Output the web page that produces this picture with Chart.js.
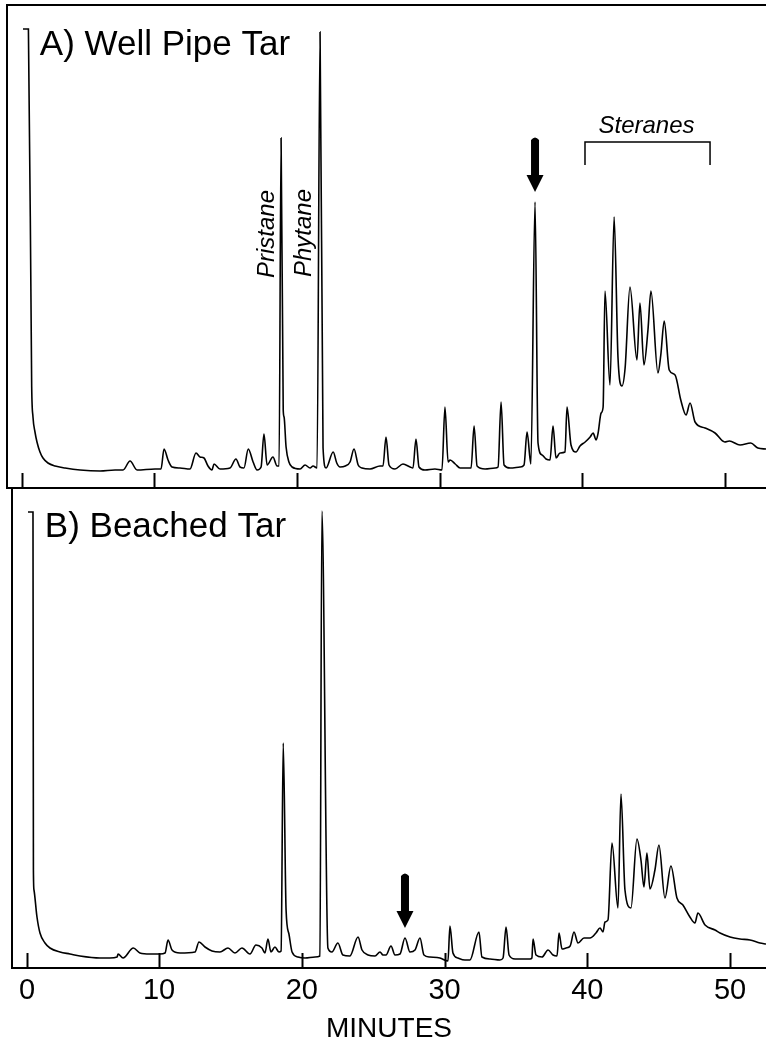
<!DOCTYPE html>
<html>
<head>
<meta charset="utf-8">
<script src="https://cdn.jsdelivr.net/npm/chart.js@4.4.0/dist/chart.umd.min.js"></script>
<style>
  body { margin: 0; background: #fff; }
  #wrap { position: relative; width: 766px; height: 1042px; background: #fff; }
  #topBox { position: absolute; left: 0; top: 0; }
  #botBox { position: absolute; left: 0; top: 488px; }
</style>
</head>
<body>
<div id="wrap">
  <div id="topBox"><canvas id="chartA" width="766" height="490"></canvas></div>
  <div id="botBox"><canvas id="chartB" width="766" height="554"></canvas></div>
</div>
<script>
// ---- data (minutes, detector response in arbitrary units) ----
const wellPipeMinutes = [0.82, 1.20, 1.43, 1.52, 1.66, 1.80, 2.01, 2.22, 2.57, 3.07, 3.77, 4.82, 6.22, 7.27, 7.83, 8.32, 8.81,
  10.07, 10.49, 10.70, 10.98, 11.26, 11.82, 12.52, 12.94, 13.22, 13.50, 13.78, 14.06, 14.20, 14.62, 15.32, 15.74, 16.02,
  16.30, 16.60, 16.94, 17.22, 17.50, 17.70, 17.92, 18.33, 18.62, 18.76, 18.90, 19.05, 19.11, 19.25, 19.45, 19.67, 20.23,
  20.58, 20.93, 21.14, 21.42, 21.63, 21.84, 22.05, 22.55, 22.80, 23.03, 23.40, 23.73, 24.01, 24.30, 24.57, 25.13, 25.83,
  26.04, 26.25, 26.46, 26.88, 27.44, 27.94, 28.14, 28.35, 28.56, 28.98, 29.68, 30.17, 30.38, 30.60, 30.74, 31.10, 31.44,
  32.21, 32.42, 32.63, 33.19, 33.89, 34.10, 34.31, 34.52, 34.94, 35.64, 35.92, 36.13, 36.40, 36.69, 36.90, 37.18, 37.46,
  37.74, 37.95, 38.16, 38.44, 38.79, 38.93, 39.21, 39.56, 39.84, 40.20, 40.55, 40.76, 40.97, 41.11, 41.32, 41.46, 41.59,
  41.94, 42.23, 42.50, 42.78, 43.00, 43.34, 43.83, 44.04, 44.32, 44.60, 44.81, 45.30, 45.50, 45.74, 46.09, 46.50, 46.90,
  47.27, 47.55, 47.90, 48.60, 49.30, 49.98, 50.30, 51.05, 51.80, 52.30, 52.87];
const wellPipeResponse = [459, 459, 101, 71, 56, 46, 36, 30, 25, 22, 20, 18, 17, 18, 18, 27, 18,
  19, 19, 39, 28, 21, 20, 19, 35, 31, 30, 22, 18, 24, 19, 20, 29, 21,
  20, 39, 26, 18, 21, 54, 23, 31, 22, 22, 350, 78, 71, 41, 26, 21, 19,
  23, 20, 22, 20, 456, 40, 20, 36, 25, 21, 22, 26, 39, 23, 20, 19, 22,
  22, 51, 23, 19, 24, 21, 20, 49, 21, 18, 19, 18, 81, 26, 28, 24, 20,
  20, 62, 22, 19, 20, 21, 86, 23, 20, 21, 23, 56, 24, 286, 45, 33, 29,
  28, 62, 30, 35, 36, 81, 43, 36, 42, 46, 51, 55, 48, 55, 75, 81, 197,
  103, 271, 131, 102, 120, 201, 128, 185, 123, 158, 197, 115, 133, 167, 118, 113, 88,
  73, 85, 66, 60, 55, 46, 47, 43, 45, 40, 39];

const beachedMinutes = [0.82, 1.17, 1.20, 1.24, 1.45, 1.66, 2.01, 2.36, 3.06, 3.76, 4.46, 5.86, 6.56, 7.06, 7.13, 7.48, 8.20,
  8.66, 9.37, 10.07, 10.42, 10.63, 10.91, 11.47, 12.52, 12.80, 13.22, 13.71, 14.27, 14.83, 15.32, 15.81, 16.37, 16.79,
  17.21, 17.42, 17.63, 17.84, 18.12, 18.40, 18.55, 18.70, 18.90, 19.10, 19.32, 19.74, 20.23, 20.93, 21.27, 21.41, 21.83,
  22.11, 22.53, 22.88, 23.37, 23.94, 24.22, 24.64, 25.13, 25.48, 25.69, 25.90, 26.25, 26.53, 26.88, 27.23, 27.58, 27.93,
  28.28, 28.56, 28.98, 29.68, 30.24, 30.38, 30.59, 30.94, 31.43, 31.78, 32.41, 32.62, 33.19, 33.88, 34.10, 34.31, 34.52,
  34.94, 35.99, 36.12, 36.20, 36.41, 36.83, 37.25, 37.60, 37.88, 38.02, 38.23, 38.51, 38.80, 39.07, 39.35, 39.77, 40.19,
  40.61, 40.89, 41.10, 41.24, 41.45, 41.73, 42.15, 42.36, 42.64, 43.06, 43.48, 43.76, 43.97, 44.18, 44.39, 44.74, 45.02,
  45.44, 45.86, 46.28, 46.70, 47.19, 47.54, 47.75, 48.25, 48.95, 49.30, 50.00, 50.70, 51.40, 52.10, 52.52];
const beachedResponse = [456, 456, 98, 78, 51, 35, 25, 20, 16, 14, 12, 10, 10, 11, 14, 10, 20,
  15, 14, 14, 15, 28, 18, 15, 16, 26, 21, 17, 16, 20, 15, 20, 14, 23,
  20, 15, 29, 16, 21, 16, 17, 225, 58, 34, 16, 11, 10, 11, 12, 457, 20,
  16, 25, 13, 12, 31, 18, 13, 12, 16, 13, 13, 22, 13, 14, 30, 16, 18,
  30, 13, 11, 10, 7, 42, 15, 10, 8, 8, 36, 11, 9, 8, 10, 41, 13,
  9, 9, 10, 29, 13, 11, 18, 13, 12, 35, 19, 20, 22, 36, 25, 30, 30,
  35, 40, 36, 46, 48, 125, 60, 174, 78, 60, 129, 108, 81, 115, 79, 98, 123,
  70, 102, 70, 63, 51, 45, 55, 43, 38, 35, 31, 29, 28, 25, 24];

const tickMinutes = [0.75, 10, 20, 30, 40, 50];
const tickLabels = ['0', '10', '20', '30', '40', '50'];

const FONT = '"Liberation Sans", Arial, sans-serif';

// draws panel titles, peak names, arrows, bracket and the inward tick marks
const marksPlugin = {
  id: 'marks',
  afterDraw(chart, args, opts) {
    const ctx = chart.ctx;
    const area = chart.chartArea;
    const xs = chart.scales.x, ys = chart.scales.y;
    const px = v => xs.getPixelForValue(v);
    const py = v => ys.getPixelForValue(v);
    ctx.save();
    ctx.fillStyle = '#000';
    ctx.strokeStyle = '#000';

    // tick marks pointing up into the plot
    ctx.lineWidth = 2;
    xs.ticks.forEach(t => {
      const x = Math.round(px(t.value)) + 0.5;
      ctx.beginPath();
      ctx.moveTo(x, area.bottom);
      ctx.lineTo(x, area.bottom - opts.tickLen);
      ctx.stroke();
    });

    // panel title
    ctx.font = '35px ' + FONT;
    ctx.textAlign = 'left';
    ctx.textBaseline = 'alphabetic';
    ctx.fillText(opts.title.text, px(opts.title.at[0]), py(opts.title.at[1]));

    // rotated peak names
    (opts.vlabels || []).forEach(l => {
      ctx.save();
      ctx.translate(px(l.at[0]), py(l.at[1]));
      ctx.rotate(-Math.PI / 2);
      ctx.font = 'italic 24px ' + FONT;
      ctx.textAlign = 'center';
      ctx.textBaseline = 'middle';
      ctx.fillText(l.text, 0, 0);
      ctx.restore();
    });

    // bracket with label
    if (opts.bracket) {
      const b = opts.bracket;
      ctx.lineWidth = 1.5;
      ctx.beginPath();
      ctx.moveTo(px(b.from), py(b.legTo));
      ctx.lineTo(px(b.from), py(b.at));
      ctx.lineTo(px(b.to), py(b.at));
      ctx.lineTo(px(b.to), py(b.legTo));
      ctx.stroke();
      ctx.font = 'italic 24px ' + FONT;
      ctx.textAlign = 'center';
      ctx.textBaseline = 'middle';
      ctx.fillText(b.text, px(b.textAt[0]), py(b.textAt[1]));
    }

    // heavy arrow
    if (opts.arrow) {
      const a = opts.arrow;
      const cx = px(a.at);
      const top = py(a.from), tip = py(a.to);
      const headTop = tip - 17;
      ctx.beginPath();
      ctx.moveTo(cx - 4, top + 3);
      ctx.quadraticCurveTo(cx, top - 2, cx + 4, top + 3);
      ctx.lineTo(cx + 4, headTop);
      ctx.lineTo(cx + 8.5, headTop);
      ctx.lineTo(cx, tip);
      ctx.lineTo(cx - 8.5, headTop);
      ctx.lineTo(cx - 4, headTop);
      ctx.closePath();
      ctx.fill();
    }
    ctx.restore();
  }
};

function makeChart(id, minutes, response, cfg) {
  const points = minutes.map((m, i) => ({ x: m, y: response[i] }));
  return new Chart(document.getElementById(id), {
    type: 'line',
    data: {
      datasets: [{
        data: points,
        borderColor: '#000',
        borderWidth: 1.6,
        pointRadius: 0,
        cubicInterpolationMode: 'monotone',
        fill: false
      }]
    },
    options: {
      responsive: false,
      animation: false,
      layout: { padding: cfg.padding },
      plugins: {
        legend: { display: false },
        tooltip: { enabled: false },
        marks: cfg.marks
      },
      scales: {
        x: {
          type: 'linear',
          min: cfg.xMin,
          max: cfg.xMax,
          afterBuildTicks: scale => { scale.ticks = tickMinutes.map(v => ({ value: v })); },
          afterFit: scale => { scale.height = cfg.axisHeight; },
          grid: { display: false, drawTicks: false },
          border: { display: true, color: '#000', width: 2 },
          ticks: {
            display: cfg.showLabels,
            color: '#000',
            padding: 5.6,
            maxRotation: 0,
            autoSkip: false,
            font: { family: FONT, size: 29 },
            callback: (v, i) => tickLabels[i]
          },
          title: {
            display: cfg.showLabels,
            text: 'MINUTES',
            color: '#000',
            padding: { top: 0, bottom: -4 },
            font: { family: FONT, size: 28 }
          }
        },
        xTop: {
          type: 'linear',
          position: 'top',
          display: cfg.topFrame,
          grid: { display: false, drawTicks: false },
          ticks: { display: false },
          border: { display: true, color: '#000', width: 2 }
        },
        y: {
          min: 0,
          max: cfg.yMax,
          grid: { display: false, drawTicks: false },
          ticks: { display: false },
          border: { display: true, color: '#000', width: 2 }
        }
      }
    },
    plugins: [marksPlugin]
  });
}

makeChart('chartA', wellPipeMinutes, wellPipeResponse, {
  padding: { top: 5, bottom: 2, left: 7, right: 0 },
  xMin: -0.30, xMax: 52.87, yMax: 483, axisHeight: 0,
  showLabels: false, topFrame: true,
  marks: {
    tickLen: 15,
    title: { text: 'A) Well Pipe Tar', at: [2.0, 433] },
    vlabels: [
      { text: 'Pristane', at: [17.92, 254] },
      { text: 'Phytane', at: [20.51, 255] }
    ],
    bracket: { text: 'Steranes', from: 40.19, to: 48.95, at: 346, legTo: 323, textAt: [44.5, 362] },
    arrow: { at: 36.69, from: 351, to: 296 }
  }
});

makeChart('chartB', beachedMinutes, beachedResponse, {
  padding: { top: 0, bottom: 0, left: 12, right: 0 },
  xMin: -0.30, xMax: 52.52, yMax: 480, axisHeight: 74,
  showLabels: true, topFrame: false,
  marks: {
    tickLen: 15,
    title: { text: 'B) Beached Tar', at: [2.0, 431] },
    arrow: { at: 27.23, from: 95, to: 40 }
  }
});
</script>
</body>
</html>
